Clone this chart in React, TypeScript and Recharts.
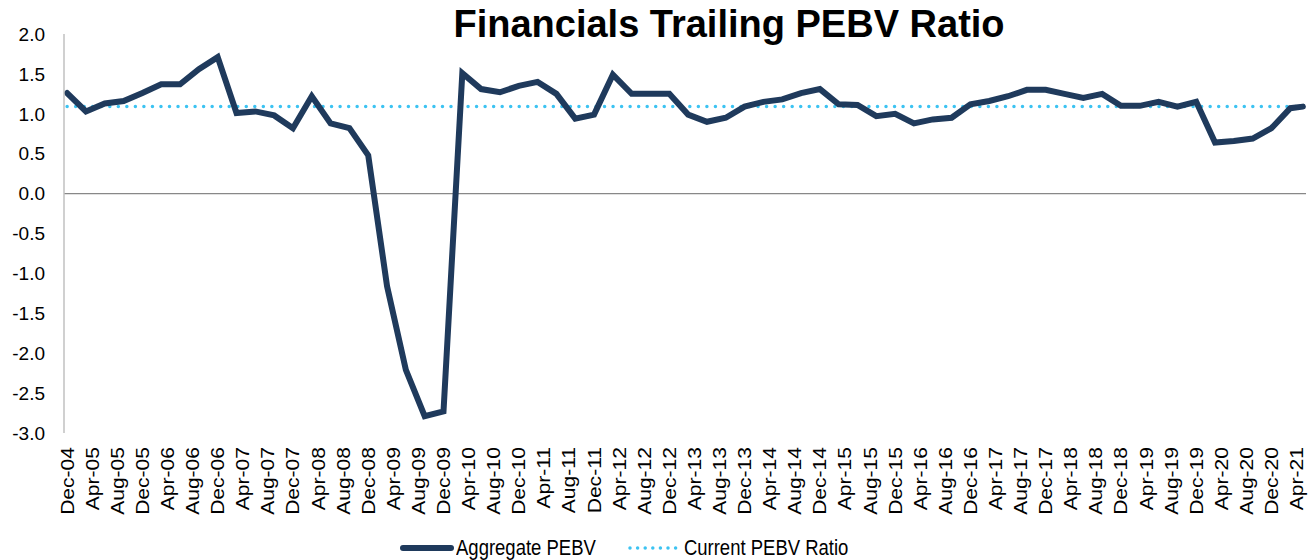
import { LineChart, Line, XAxis, YAxis, ReferenceLine, Legend } from "recharts";

// quarterly observations, last one is a mid-quarter update
const pointDates = [
  "Dec-04",
  "Mar-05", "Jun-05", "Sep-05", "Dec-05",
  "Mar-06", "Jun-06", "Sep-06", "Dec-06",
  "Mar-07", "Jun-07", "Sep-07", "Dec-07",
  "Mar-08", "Jun-08", "Sep-08", "Dec-08",
  "Mar-09", "Jun-09", "Sep-09", "Dec-09",
  "Mar-10", "Jun-10", "Sep-10", "Dec-10",
  "Mar-11", "Jun-11", "Sep-11", "Dec-11",
  "Mar-12", "Jun-12", "Sep-12", "Dec-12",
  "Mar-13", "Jun-13", "Sep-13", "Dec-13",
  "Mar-14", "Jun-14", "Sep-14", "Dec-14",
  "Mar-15", "Jun-15", "Sep-15", "Dec-15",
  "Mar-16", "Jun-16", "Sep-16", "Dec-16",
  "Mar-17", "Jun-17", "Sep-17", "Dec-17",
  "Mar-18", "Jun-18", "Sep-18", "Dec-18",
  "Mar-19", "Jun-19", "Sep-19", "Dec-19",
  "Mar-20", "Jun-20", "Sep-20", "Dec-20",
  "Mar-21", "May-21",
];

const aggregatePebv = [
  1.26,
  1.03, 1.13, 1.16, 1.26,
  1.37, 1.37, 1.56, 1.71,
  1.01, 1.03, 0.98, 0.82,
  1.22, 0.88, 0.82, 0.48,
  -1.16, -2.21, -2.79, -2.73,
  1.51, 1.31, 1.27, 1.35,
  1.4, 1.25, 0.94, 0.99,
  1.49, 1.25, 1.25, 1.25,
  0.99, 0.9, 0.95, 1.09,
  1.15, 1.18, 1.26, 1.31,
  1.12, 1.11, 0.97, 1.0,
  0.88, 0.93, 0.95, 1.12,
  1.16, 1.22, 1.3, 1.3,
  1.25, 1.2, 1.25, 1.1,
  1.1, 1.15, 1.09, 1.15,
  0.64, 0.66, 0.69, 0.82,
  1.07, 1.09,
];

const currentPebv = 1.09;

const tickLabels = [
  "Dec-04", "Apr-05", "Aug-05", "Dec-05", "Apr-06", "Aug-06", "Dec-06", "Apr-07",
  "Aug-07", "Dec-07", "Apr-08", "Aug-08", "Dec-08", "Apr-09", "Aug-09", "Dec-09",
  "Apr-10", "Aug-10", "Dec-10", "Apr-11", "Aug-11", "Dec-11", "Apr-12", "Aug-12",
  "Dec-12", "Apr-13", "Aug-13", "Dec-13", "Apr-14", "Aug-14", "Dec-14", "Apr-15",
  "Aug-15", "Dec-15", "Apr-16", "Aug-16", "Dec-16", "Apr-17", "Aug-17", "Dec-17",
  "Apr-18", "Aug-18", "Dec-18", "Apr-19", "Aug-19", "Dec-19", "Apr-20", "Aug-20",
  "Dec-20", "Apr-21",
];

const yTicks = [-3, -2.5, -2, -1.5, -1, -0.5, 0, 0.5, 1, 1.5, 2];

const MONTHS = ["Jan", "Feb", "Mar", "Apr", "May", "Jun", "Jul", "Aug", "Sep", "Oct", "Nov", "Dec"];

// months since Dec-04
const monthIndex = (label: string) => {
  const [mon, yy] = label.split("-");
  return (Number(yy) + 2000 - 2004) * 12 + MONTHS.indexOf(mon) - 11;
};

const data = pointDates.map((d, i) => ({
  m: monthIndex(d),
  pebv: aggregatePebv[i],
  current: currentPebv,
}));

const xTicks = tickLabels.map(monthIndex);
const labelByMonth: Record<number, string> = {};
tickLabels.forEach((l) => (labelByMonth[monthIndex(l)] = l));

const FONT = '"Liberation Sans", Arial, Helvetica, sans-serif';
const NAVY = "#1f3a5c";
const CYAN = "#3cc3f2";

if (typeof document !== "undefined") document.body.style.margin = "0";

const XTick = ({ x, y, payload }: any) => (
  <g transform={`translate(${x},${y})`}>
    <text transform="rotate(-90) scale(1.08,0.92)" textAnchor="end" dy="0.36em" fontSize={19.5} fill="#000" fontFamily={FONT}>
      {labelByMonth[payload.value]}
    </text>
  </g>
);

const legendText = { display: "inline-block", transform: "scaleY(1.2)" };

const LegendContent = () => (
  <div style={{ height: 24, display: "flex", alignItems: "center", paddingLeft: 400, fontFamily: FONT, fontSize: 18.5, color: "#000" }}>
    <svg width={54} height={10} style={{ marginRight: 2 }}>
      <line x1={3} y1={5} x2={51} y2={5} stroke={NAVY} strokeWidth={6} strokeLinecap="round" />
    </svg>
    <span style={legendText}>Aggregate PEBV</span>
    <svg width={50} height={10} style={{ marginLeft: 32, marginRight: 6 }}>
      <line x1={2} y1={5} x2={48} y2={5} stroke={CYAN} strokeWidth={3.5} strokeLinecap="round" strokeDasharray="0 7.6" />
    </svg>
    <span style={legendText}>Current PEBV Ratio</span>
  </div>
);

export default function App() {
  return (
    <div style={{ position: "relative", width: 1309, height: 560, fontFamily: FONT }}>
      <div
        style={{
          position: "absolute",
          left: 729,
          top: 5,
          transform: "translateX(-50%)",
          fontSize: 38,
          lineHeight: "38px",
          fontWeight: "bold",
          whiteSpace: "nowrap",
          color: "#000",
          zIndex: 1,
        }}
      >
        Financials Trailing PEBV Ratio
      </div>
      <LineChart width={1309} height={560} data={data} margin={{ top: 34, right: 3, bottom: 0, left: 0 }}>
        <XAxis
          dataKey="m"
          type="number"
          domain={[-0.5, 197.5]}
          ticks={xTicks}
          interval={0}
          axisLine={false}
          tickLine={false}
          tickSize={6}
          tickMargin={8}
          height={103}
          tick={<XTick />}
        />
        <YAxis
          type="number"
          domain={[-3, 2]}
          ticks={yTicks}
          interval={0}
          width={64}
          axisLine={{ stroke: "#c0c0c0", strokeWidth: 1.5 }}
          tickLine={false}
          tickSize={6}
          tickMargin={13}
          tickFormatter={(v: number) => v.toFixed(1)}
          tick={{ fontSize: 19, fill: "#000", fontFamily: FONT }}
        />
        <ReferenceLine y={0} stroke="#888" strokeWidth={1.2} />
        <Line
          type="linear"
          dataKey="current"
          stroke={CYAN}
          strokeWidth={3.5}
          strokeLinecap="round"
          strokeDasharray="0 8.53"
          dot={false}
          activeDot={false}
          isAnimationActive={false}
        />
        <Line
          type="linear"
          dataKey="pebv"
          stroke={NAVY}
          strokeWidth={6}
          strokeLinecap="round"
          dot={false}
          activeDot={false}
          isAnimationActive={false}
        />
        <Legend verticalAlign="bottom" height={24} content={<LegendContent />} />
      </LineChart>
    </div>
  );
}
